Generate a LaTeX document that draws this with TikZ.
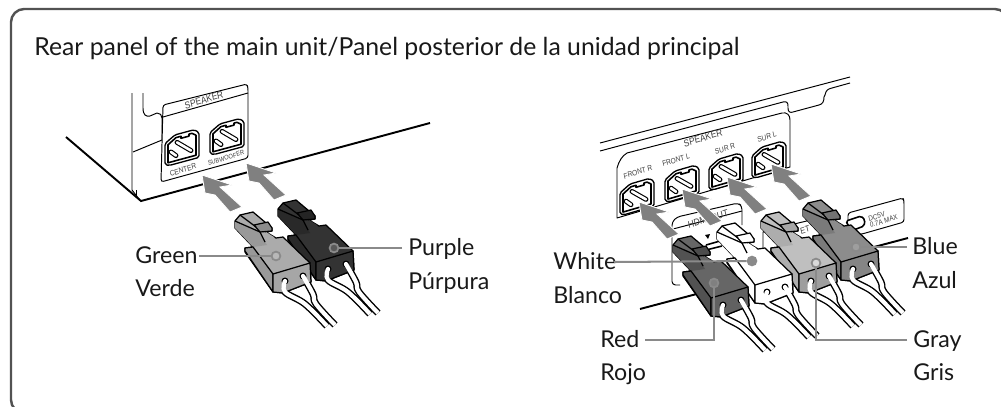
\documentclass[tikz,border=0pt]{standalone}
\usepackage{fontspec}
\setmainfont{Lato}
\newfontfamily\smallfam{Liberation Sans}
\tikzset{
  x=0.02cm,y=-0.02cm,
  frameline/.style={draw=black!68,line width=1.4pt,rounded corners=7.5pt},
  unitline/.style={draw=black,line width=0.55pt,line join=round},
  thickline/.style={draw=black,line width=1.1pt},
  label/.style={font=\fontsize{13.2}{16}\selectfont,anchor=base west,text=black!90,inner sep=0pt},
  title/.style={font=\fontsize{14.1}{16}\selectfont,anchor=base west,text=black!90,inner sep=0pt},
  tiny/.style={font=\smallfam\fontsize{#1}{#1}\selectfont,text=black!75,inner sep=0pt,align=left,xscale=0.85},
  bigarrow/.style={fill=arrowgray,draw=white,line width=0.5pt,line join=miter},
  leader/.style={draw=leadgray,line width=1.15pt},
  dot/.style={circle,draw=leadgray,line width=1pt,minimum size=5pt,inner sep=0pt},
  plugline/.style={draw=black,line width=0.7pt,line join=round},
}
\definecolor{arrowgray}{HTML}{808080}
\definecolor{leadgray}{HTML}{8A8A8A}
% plug: x, y, top colour, head-side colour, front colour, tab colour
\newcommand{\plugdraw}[6]{%
\begin{scope}[shift={(#1,#2)}]
  \foreach \w in {
    {(50,61) (50,72) (70,84) (92,106)},
    {(68,56) (78,74) (81,84) (100,105)}}{
    \draw[black,line width=4pt,line cap=butt] plot[smooth,tension=0.6] coordinates \w;
  }
  \path[fill=#3,plugline] (0,1)--(5,-5)--(18,-8)--(37,8)--(37,11)--(31,12)--(41,18)--(48,17)--(75,43)--(76,62)--(48,73)--(38,72)--(10,32)--(10,28)--(18,27)--(0,8)--cycle;
  \path[fill=#4] (0,1)--(25,12)--(32,25)--(18,27)--(0,8)--cycle;
  \path[fill=#4,plugline] (10,31)--(10,28)--(18,27)--(38,54)--(38,72)--cycle;
  \path[fill=#5,plugline] (38,54)--(75,43)--(76,62)--(48,73)--(38,72)--cycle;
  \path[fill=#6,plugline] (19,5)--(33,2)--(37,8)--(37,11)--(25,12)--cycle;
  \draw[plugline] (5,-5)--(21,7);
  \draw[plugline] (0,1)--(25,12)--(30,22);
  \path[draw=#3,line width=0.9pt] (31,12.8)--(39,18);
  \foreach \sx/\sy in {50/61,68/56}{
    \fill[black] (\sx,\sy) circle (3.5);
    \fill[white] (\sx,\sy) circle (2.1);
  }
  \foreach \w in {
    {(50,61) (50,72) (70,84) (92,106)},
    {(68,56) (78,74) (81,84) (100,105)}}{
    \draw[white,line width=2.4pt,line cap=butt] plot[smooth,tension=0.6] coordinates \w;
  }
\end{scope}}
% socket: x, y, slant
\newcommand{\sockdraw}[3]{%
\begin{scope}[shift={(#1,#2)},yslant=#3]
  \path[fill=white,draw=black,line width=0.75pt,line join=round,rounded corners=1pt] (-17,-7)--(-7,-13)--(12,-13)--(17,-9)--(17,16)--(-13,16)--(-17,14)--cycle;
  \path[draw=black,line width=0.9pt,line join=round] (-14,-5)--(-6,-10)--(-1,-10)--(-1,-8)--(7,-8)--(7,-10)--(10,-10)--(14,-7)--(14,13)--(-14,13)--cycle;
  \draw[black,line width=2.8pt,line cap=round] (-5,-5)--(9,7);
  \draw[white,line width=1.5pt,line cap=round] (-5,-5)--(9,7);
  \draw[black,line width=2.8pt,line cap=round] (-11,3)--(-6,8);
  \draw[white,line width=1.5pt,line cap=round] (-11,3)--(-6,8);
\end{scope}}
\newcommand{\arrdraw}[2]{%
\path[bigarrow,shift={(#1,#2)}] (0,0)--(30,10)--(18,12)--(40,32)--(28,37)--(13,20)--(3,18)--cycle;}
\begin{document}
\begin{tikzpicture}
\useasboundingbox (0,0) rectangle (1001,406);
\begin{scope}
\clip (0,0) rectangle (1001,406);
\draw[frameline] (11,9) rectangle (1008,413);
\end{scope}
\node[title] (ttl) at (34,55) {Rear panel of the main unit/Panel posterior de la unidad principal};

%% left unit
\coordinate (la) at (66,137);\coordinate (lb) at (141,201);\coordinate (lc) at (430,123);
\draw[thickline] (la)--(lb)--(lc);
\draw[unitline] (132,93)--(132,190)--(139,199);
\draw[unitline] (136,190)--(136,198);
\draw[unitline] (143,93)--(143,108) .. controls (143,115) and (146,117) .. (150,116)--(157,113) .. controls (160,113) and (162,115) .. (162,118)--(162,140);
\draw[unitline] (133,152)--(162,140);
\path[fill=white,unitline,rounded corners=1.5pt] (163,105)--(247,84)--(248,88)--(248,158)--(161,182)--cycle;
\draw[unitline] (163,117)--(248,93);
\node[tiny=5.6,rotate=15] (lsp) at (204,100) {SPEAKER};
\node[tiny=4.4,rotate=15] (lcen) at (183,170) {CENTER};
\node[tiny=3.8,rotate=15] (lsub) at (226,158) {SUBWOOFER};
\sockdraw{182}{146}{0.27}
\sockdraw{227}{135}{0.27}
\arrdraw{202}{175}
\arrdraw{246}{163}

%% right unit
\coordinate (ra) at (640,309);\coordinate (rb) at (908,238);
\draw[thickline] (ra)--(rb);
\draw[unitline] (600,143)--(850,77);
\draw[unitline] (600,151)--(783,102) .. controls (787,101) and (788,103) .. (788,106)--(788,108) .. controls (788,112) and (790,113) .. (793,112)--(819,105) .. controls (823,104) and (824,101) .. (824,97)--(825,95) .. controls (826,90) and (828,89) .. (832,88)--(850,83);
\path[fill=white,unitline] (617,218)--(617,168) .. controls (619,161) and (622,156) .. (627,153)--(782,113) .. controls (787,112) and (790,115) .. (790,120)--(790,167)--cycle;
\node[tiny=5.6,rotate=15] (rsp) at (703,138) {SPEAKER};
\node[tiny=4.4,rotate=15] (fr) at (638,172) {FRONT R};
\node[tiny=4.4,rotate=15] (fl) at (676,160) {FRONT L};
\node[tiny=4.4,rotate=15] (sr) at (725,149) {SUR R};
\node[tiny=4.4,rotate=15] (sl) at (767,137) {SUR L};
\sockdraw{637}{195}{0.29}
\sockdraw{682}{182}{0.29}
\sockdraw{726}{170}{0.29}
\sockdraw{769}{158}{0.29}
% HDMI block
\path[fill=white] (672,285)--(672,222)--(677,217)--(738,203)--(742,206)--(742,245)--(690,285)--cycle;
\draw[unitline,rounded corners=2pt] (680,285)--(672,285)--(672,222)--(677,217)--(738,203)--(742,206)--(742,225);
\draw[unitline] (673,229)--(742,211);
\node[tiny=5.6,rotate=15] (hd) at (708,219) {HDMI OUT};
\fill[black] (705,235)--(710,234)--(708,239)--cycle;
\draw[black,line width=0.9pt] (706,245)--(720,241);
\draw[black,line width=0.9pt] (706,250)--(722,246);
% second small panel
\path[fill=white] (763,252)--(763,232)--(812,219)--(812,240)--cycle;
\draw[unitline] (763,252)--(763,232)--(780,228);
\draw[unitline] (790,225)--(815,219);
\node[tiny=5,rotate=15] (et) at (805,230) {ET};
% DC panel
\path[fill=white,unitline,rounded corners=1.5pt] (848,213)--(903,198)--(904,201)--(904,222)--(862,234)--(848,236)--cycle;
\path[fill=white,draw=black,line width=0.9pt,rounded corners=1pt] (846,221)--(861,216)--(865,220)--(864,226)--(851,231)--cycle;
\node[tiny=4.2,rotate=15,anchor=center] (dc) at (883,218) {DC5V\\[-0.6pt]0.7A MAX};
\arrdraw{639}{202}
\arrdraw{682}{189}
\arrdraw{727}{177}
\arrdraw{771}{164}

%% plugs (back to front)
\plugdraw{278}{208}{black!80}{black!84}{black!80}{black!86}
\plugdraw{235}{220}{black!33}{black!40}{black!35}{black!45}
\plugdraw{803}{208}{black!45}{black!52}{black!48}{black!55}
\plugdraw{761}{220}{black!25}{black!32}{black!38}{black!35}
\plugdraw{717}{231}{white}{white}{white}{white}
\plugdraw{673}{244}{black!60}{black!68}{black!62}{black!70}

%% labels
\node[label] (tgreen) at (135,263) {Green};
\node[label] (tverde) at (135,296) {Verde};
\node[label] (tpurple) at (408,255) {Purple};
\node[label] (tpurp) at (408,289) {Púrpura};
\node[label] (twhite) at (553,269) {White};
\node[label] (tblanco) at (553,303) {Blanco};
\node[label] (tred) at (600,347) {Red};
\node[label] (trojo) at (600,380) {Rojo};
\node[label] (tblue) at (912,254) {Blue};
\node[label] (tazul) at (912,288) {Azul};
\node[label] (tgray) at (913,347) {Gray};
\node[label] (tgris) at (913,380) {Gris};

%% leaders
\node[dot,fill=black!28] (dgreen) at (276,256) {};
\node[dot,fill=black!65] (dpurple) at (334,248) {};
\node[dot,fill=leadgray] (dwhite) at (752,261) {};
\node[dot,fill=black!50] (dred) at (714,283) {};
\node[dot,fill=black!15] (dgray) at (816,263) {};
\node[dot,fill=black!38] (dblue) at (856,247) {};
\coordinate (cgreen) at (199,256);
\coordinate (cpurple) at (402,248);
\coordinate (cwhite) at (614,262);
\coordinate (cred) at (645,340);
\coordinate (cgray) at (907,340);
\coordinate (cblue) at (907,247);
\draw[leader] (cgreen)--(dgreen);
\draw[leader] (cpurple)--(dpurple);
\draw[leader] (cwhite)--(dwhite);
\draw[leader] (cred)-|(dred);
\draw[leader] (cgray)-|(dgray);
\draw[leader] (cblue)--(dblue);
\end{tikzpicture}
\end{document}
